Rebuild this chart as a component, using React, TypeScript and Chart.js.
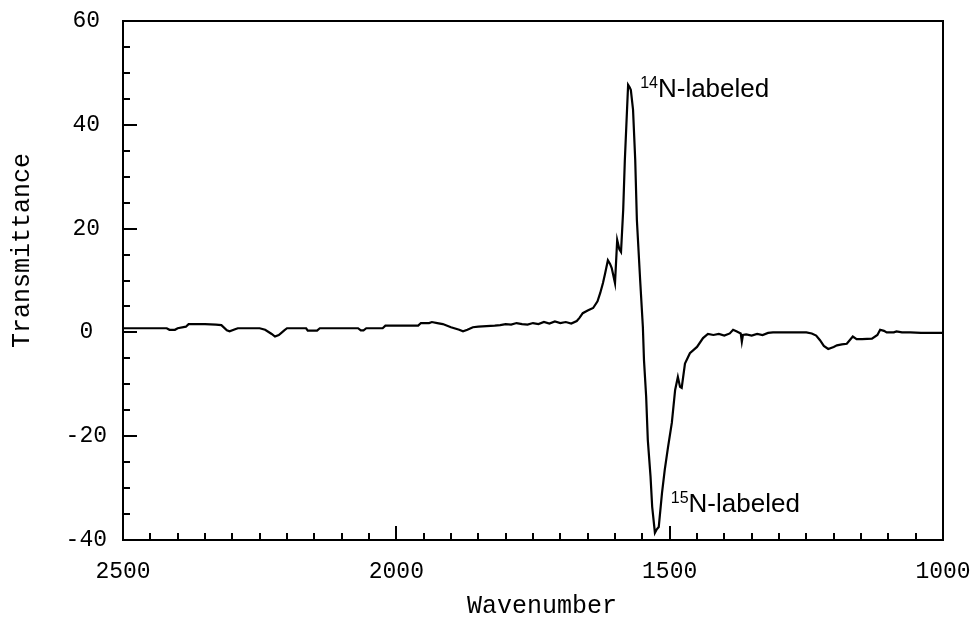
import { useEffect, useRef } from "react";
import { Chart, registerables } from "chart.js";

Chart.register(...registerables);

// Wavenumber (cm^-1)
const wavenumbers = [
  2500, 2470, 2440, 2420, 2415, 2405, 2400, 2385, 2380, 2350, 2330, 2320, 2310, 2305, 2295, 2290,
  2250, 2240, 2228, 2222, 2215, 2205, 2200, 2165, 2162, 2145, 2140, 2070, 2065, 2060, 2055, 2025,
  2020, 1960, 1955, 1940, 1935, 1925, 1915, 1900, 1885, 1878, 1870, 1860, 1850, 1835, 1820, 1810,
  1800, 1790, 1780, 1770, 1760, 1750, 1740, 1730, 1720, 1710, 1700, 1690, 1680, 1670, 1665, 1659,
  1650, 1640, 1632, 1627, 1622, 1618, 1613, 1609, 1606, 1600, 1596, 1592, 1589, 1585, 1582, 1578,
  1576, 1573, 1571, 1567, 1563, 1560, 1554, 1549, 1547, 1543, 1540, 1535, 1532, 1527, 1524, 1520,
  1514, 1509, 1503, 1496, 1490, 1485, 1481, 1478, 1472, 1463, 1450, 1439, 1430, 1420, 1410, 1400,
  1390, 1384, 1378, 1370, 1368, 1366, 1360, 1350, 1340, 1330, 1320, 1311, 1250, 1240, 1232, 1225,
  1218, 1210, 1200, 1194, 1185, 1176, 1165, 1158, 1148, 1130, 1120, 1115, 1108, 1103, 1090, 1085,
  1075, 1060, 1040, 1000,
];

// Transmittance values
const transmittance = [
  0.8, 0.8, 0.8, 0.8, 0.5, 0.5, 0.8, 1.1, 1.6, 1.6, 1.5, 1.4, 0.4, 0.2, 0.6, 0.8,
  0.8, 0.5, -0.3, -0.8, -0.5, 0.4, 0.8, 0.8, 0.35, 0.35, 0.8, 0.8, 0.4, 0.4, 0.8, 0.8,
  1.3, 1.3, 1.8, 1.8, 2.0, 1.8, 1.6, 1.0, 0.5, 0.2, 0.5, 1.0, 1.1, 1.2, 1.3, 1.4,
  1.6, 1.5, 1.8, 1.6, 1.5, 1.8, 1.6, 2.0, 1.7, 2.1, 1.8, 2.0, 1.7, 2.2, 2.8, 3.7,
  4.2, 4.7, 6.0, 7.6, 9.5, 11.4, 13.9, 13.2, 12.4, 9.5, 17.8, 16.0, 15.5, 23.6, 33.2, 42.9,
  47.7, 47.2, 46.7, 42.9, 33.2, 21.7, 10.1, 1.0, -5.3, -12.4, -20.7, -27.8, -33.6, -38.6, -38.0, -37.5,
  -30.9, -26.5, -22.1, -17.4, -11.1, -8.6, -10.5, -10.7, -6.0, -4.0, -2.8, -1.1, -0.3, -0.5, -0.3, -0.6,
  -0.2, 0.5, 0.2, -0.2, -1.8, -0.5, -0.4, -0.6, -0.3, -0.5, -0.1, 0.0, 0.0, -0.2, -0.6, -1.5,
  -2.6, -3.2, -2.8, -2.5, -2.3, -2.2, -0.8, -1.3, -1.3, -1.2, -0.5, 0.5, 0.3, 0.0, 0.0, 0.2,
  0.0, 0.0, -0.1, -0.1,
];

const yTickValues = [60, 40, 20, 0, -20, -40];
const xTickValues = [2500, 2000, 1500, 1000];
const yMinorStep = 5;
const xMinorStep = 50;

const xTitle = "Wavenumber";
const yTitle = "Transmittance";

const labelSups = ["14", "15"];
const labelTexts = ["N-labeled", "N-labeled"];
const labelX = [1554, 1498];
const labelY = [45.4, -34.6];

const MONO = "'Liberation Mono', 'Courier New', monospace";
const SANS = "'Liberation Sans', Arial, Helvetica, sans-serif";

const framePlugin = {
  id: "framePlugin",
  afterDraw(chart: any) {
    const { ctx, chartArea, scales } = chart;
    const { left, right, top, bottom } = chartArea;
    const x = scales.x;
    const y = scales.y;
    ctx.save();
    ctx.strokeStyle = "#000";
    ctx.lineWidth = 2;
    ctx.beginPath();
    for (let v = y.min; v <= y.max + 1e-9; v += yMinorStep) {
      const py = Math.round(y.getPixelForValue(v));
      const len = yTickValues.includes(v) ? 14 : 7;
      ctx.moveTo(left, py);
      ctx.lineTo(left + len, py);
    }
    for (let w = x.min; w <= x.max + 1e-9; w += xMinorStep) {
      const px = Math.round(x.getPixelForValue(w));
      const len = xTickValues.includes(w) ? 14 : 7;
      ctx.moveTo(px, bottom);
      ctx.lineTo(px, bottom - len);
    }
    ctx.stroke();
    ctx.lineWidth = 2;
    ctx.strokeRect(left, top, right - left, bottom - top);

    // axis titles
    ctx.fillStyle = "#000";
    ctx.font = `25px ${MONO}`;
    ctx.textAlign = "center";
    ctx.textBaseline = "middle";
    ctx.fillText(xTitle, (left + right) / 2 + 9, bottom + 66);
    ctx.save();
    ctx.translate(left - 101, (top + bottom) / 2 - 30);
    ctx.rotate(-Math.PI / 2);
    ctx.fillText(yTitle, 0, 0);
    ctx.restore();

    // peak annotations
    ctx.textAlign = "left";
    ctx.textBaseline = "alphabetic";
    for (let i = 0; i < labelTexts.length; i++) {
      const px = x.getPixelForValue(labelX[i]);
      const py = y.getPixelForValue(labelY[i]);
      ctx.font = `16px ${SANS}`;
      ctx.fillText(labelSups[i], px, py - 9);
      const sw = ctx.measureText(labelSups[i]).width;
      ctx.font = `26px ${SANS}`;
      ctx.fillText(labelTexts[i], px + sw, py);
    }
    ctx.restore();
  },
};

const zeroPadding = (scale: any) => {
  scale.paddingTop = 0;
  scale.paddingBottom = 0;
  scale.paddingLeft = 0;
  scale.paddingRight = 0;
};

export default function App() {
  const canvasRef = useRef<HTMLCanvasElement | null>(null);

  useEffect(() => {
    const canvas = canvasRef.current;
    if (!canvas) return;
    const points = wavenumbers.map((w, i) => ({ x: w, y: transmittance[i] }));
    const chart = new Chart(canvas, {
      type: "line",
      data: {
        datasets: [
          {
            data: points,
            borderColor: "#000",
            borderWidth: 2.2,
            pointRadius: 0,
            tension: 0,
            fill: false,
          },
        ],
      },
      options: {
        responsive: false,
        animation: false,
        devicePixelRatio: 1,
        layout: { padding: { left: 0, top: 21, right: 32, bottom: 0 } },
        plugins: {
          legend: { display: false },
          tooltip: { enabled: false },
          title: { display: false },
        },
        scales: {
          x: {
            type: "linear",
            reverse: true,
            min: 1000,
            max: 2500,
            grid: { display: false, drawTicks: false },
            border: { display: false },
            afterBuildTicks: (scale: any) => {
              scale.ticks = xTickValues.map((v) => ({ value: v }));
            },
            afterFit: (scale: any) => {
              scale.height = 87;
              zeroPadding(scale);
            },
            ticks: {
              color: "#000",
              font: { family: MONO, size: 23 },
              padding: 18,
              maxRotation: 0,
              autoSkip: false,
              callback: (value: any) => String(value),
            },
          },
          y: {
            type: "linear",
            min: -40,
            max: 60,
            grid: { display: false, drawTicks: false },
            border: { display: false },
            afterBuildTicks: (scale: any) => {
              scale.ticks = yTickValues.map((v) => ({ value: v }));
            },
            afterFit: (scale: any) => {
              scale.width = 123;
              zeroPadding(scale);
            },
            ticks: {
              color: "#000",
              font: { family: MONO, size: 23 },
              padding: 16,
              crossAlign: "center",
              autoSkip: false,
              callback: (value: any) => String(value),
            },
          },
        },
      },
      plugins: [framePlugin],
    });
    return () => chart.destroy();
  }, []);

  return (
    <div style={{ position: "absolute", left: 0, top: 0, width: 975, height: 627, background: "#fff" }}>
      <canvas ref={canvasRef} width={975} height={627} />
    </div>
  );
}
